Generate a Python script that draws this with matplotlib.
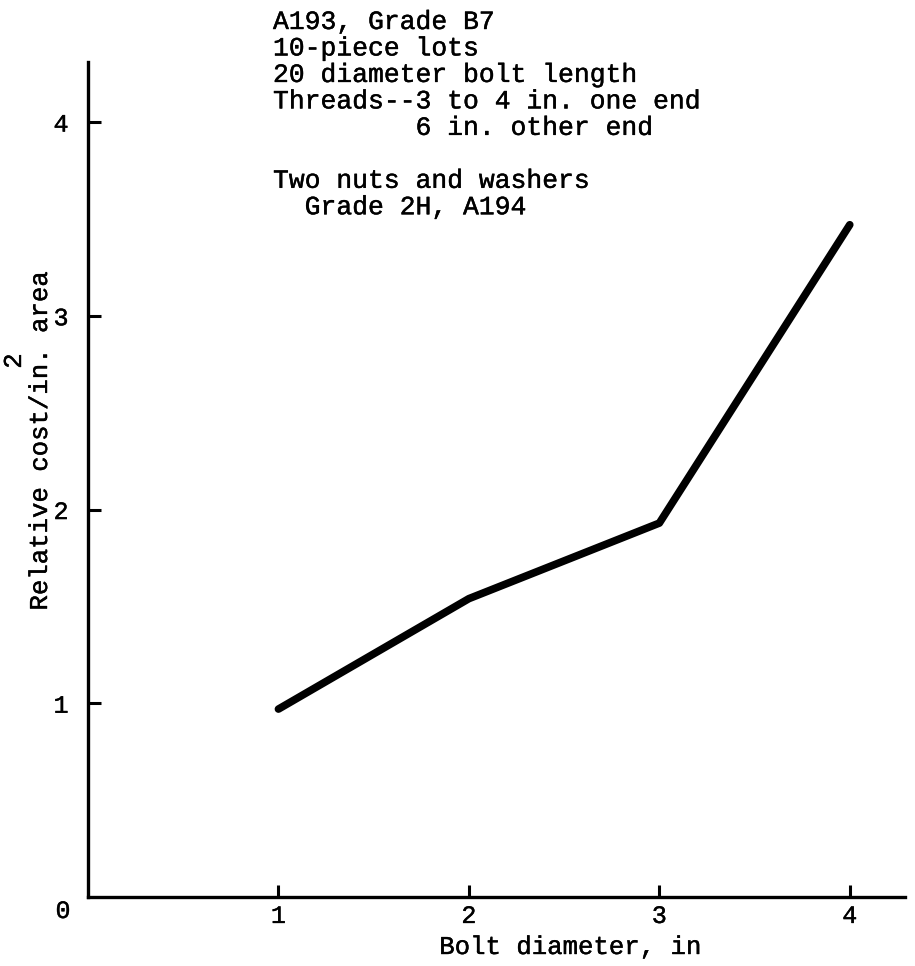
import numpy as np
import matplotlib.pyplot as plt
import matplotlib.patheffects as pe

# bolt diameter vs relative cost per in^2 of area
diameter = [1, 2, 3, 4]
rel_cost = [0.97, 1.54, 1.93, 3.47]
x_ticks = [1, 2, 3, 4]
y_ticks = [1, 2, 3, 4]

notes = ("A193, Grade B7\n"
         "10-piece lots\n"
         "20 diameter bolt length\n"
         "Threads--3 to 4 in. one end\n"
         "         6 in. other end\n"
         "\n"
         "Two nuts and washers\n"
         "  Grade 2H, A194")

plt.rcParams['font.family'] = ['Liberation Mono', 'DejaVu Sans Mono']
# slightly heavier strokes, like the typed original
ink = [pe.withStroke(linewidth=0.3, foreground='black')]

W, H = 915, 966
fig = plt.figure(figsize=(W / 100, H / 100), dpi=100)
ax = fig.add_axes([88 / W, 69 / H, (905 - 88) / W, (897 - 62) / H])

ax.plot(diameter, rel_cost, color='black', lw=5.5, solid_capstyle='round',
        solid_joinstyle='round')

ax.set_xlim(0, 4.29)
ax.set_ylim(0, 4.31)
ax.set_xticks(x_ticks)
ax.set_yticks(y_ticks)
ax.tick_params(direction='in', length=9, width=2.2, labelsize=18)
ax.tick_params(axis='y', pad=14)
ax.tick_params(axis='x', pad=5)
for lbl in ax.get_xticklabels() + ax.get_yticklabels():
    lbl.set_path_effects(ink)

for side in ['top', 'right']:
    ax.spines[side].set_visible(False)
for side in ['left', 'bottom']:
    ax.spines[side].set_linewidth(2.4)

# shared origin label
ax.annotate('0', xy=(0, 0), xytext=(-25, -14), textcoords='offset pixels',
            ha='center', va='center', fontsize=18, path_effects=ink)

# y label, with the typed superscript 2 placed over the period
fig.text(40 / W, 1 - 440 / H, 'Relative cost/in. area', rotation=90,
         ha='center', va='center', fontsize=18.5, path_effects=ink)
fig.text(14 / W, 1 - 361 / H, '2', rotation=90,
         ha='center', va='center', fontsize=18.5, path_effects=ink)
fig.text(571 / W, 1 - 947 / H, 'Bolt diameter, in', ha='center', va='center',
         fontsize=18.5, path_effects=ink)

fig.text(273 / W, 1 - 10 / H, notes, ha='left', va='top', fontsize=19,
         linespacing=1.13, path_effects=ink)

fig.savefig('out.png', dpi=100)
